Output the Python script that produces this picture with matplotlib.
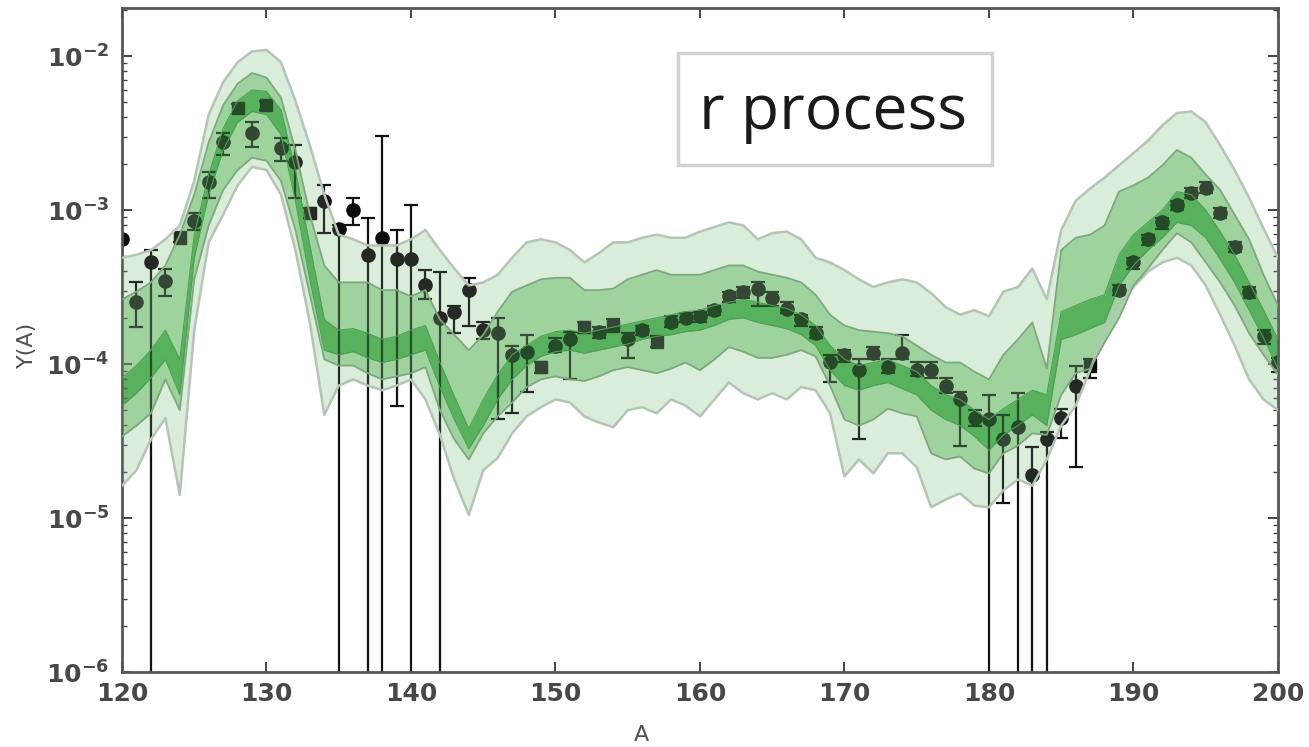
import numpy as np
import matplotlib
matplotlib.use("Agg")
import matplotlib.pyplot as plt
from matplotlib.patches import Rectangle
from matplotlib.ticker import FixedLocator, LogLocator, FuncFormatter, NullFormatter

# grid of mass numbers for the bands
A_grid = np.arange(120, 201)

# band edges, log10 Y(A) (A = 120 ... 200)
light_hi = [-3.31, -3.29, -3.26, -3.19, -3.10, -2.81, -2.38, -2.17, -2.04, -1.97,
            -1.96, -2.04, -2.29, -2.58, -2.90, -3.16, -3.19, -3.23, -3.23, -3.23,
            -3.19, -3.13, -3.26, -3.38, -3.49, -3.47, -3.42, -3.31, -3.21, -3.19,
            -3.21, -3.26, -3.34, -3.28, -3.21, -3.21, -3.18, -3.16, -3.18, -3.18,
            -3.14, -3.11, -3.08, -3.10, -3.19, -3.15, -3.14, -3.19, -3.31, -3.34,
            -3.39, -3.45, -3.50, -3.47, -3.45, -3.47, -3.54, -3.63, -3.68, -3.65,
            -3.69, -3.53, -3.50, -3.38, -3.58, -3.13, -2.94, -2.86, -2.79, -2.71,
            -2.63, -2.55, -2.45, -2.37, -2.36, -2.43, -2.58, -2.74, -2.92, -3.12,
            -3.31]
light_lo = [-4.79, -4.69, -4.49, -4.35, -4.85, -3.78, -3.21, -3.03, -2.84, -2.72,
            -2.74, -2.90, -3.26, -3.73, -4.33, -4.14, -4.10, -4.14, -4.17, -4.14,
            -4.10, -4.23, -4.46, -4.75, -4.98, -4.69, -4.61, -4.45, -4.34, -4.28,
            -4.23, -4.25, -4.34, -4.38, -4.41, -4.30, -4.28, -4.32, -4.23, -4.27,
            -4.34, -4.23, -4.12, -4.19, -4.23, -4.19, -4.23, -4.15, -4.17, -4.32,
            -4.73, -4.62, -4.71, -4.58, -4.58, -4.67, -4.93, -4.88, -4.84, -4.92,
            -4.93, -4.82, -4.75, -4.79, -4.62, -4.40, -4.27, -4.04, -3.78, -3.62,
            -3.50, -3.40, -3.34, -3.31, -3.36, -3.49, -3.68, -3.88, -4.10, -4.23,
            -4.30]
mid_hi = [-3.58, -3.53, -3.47, -3.36, -3.16, -2.90, -2.56, -2.32, -2.18, -2.11,
          -2.14, -2.27, -2.61, -3.03, -3.36, -3.47, -3.47, -3.47, -3.52, -3.52,
          -3.56, -3.52, -3.71, -3.81, -3.91, -3.81, -3.66, -3.53, -3.49, -3.45,
          -3.44, -3.44, -3.52, -3.52, -3.51, -3.45, -3.42, -3.39, -3.42, -3.42,
          -3.42, -3.39, -3.36, -3.36, -3.40, -3.42, -3.44, -3.47, -3.55, -3.68,
          -3.75, -3.78, -3.79, -3.80, -3.82, -3.88, -3.94, -3.99, -3.99, -4.05,
          -4.10, -3.94, -3.84, -3.73, -4.03, -3.26, -3.18, -3.16, -3.10, -2.88,
          -2.84, -2.79, -2.71, -2.61, -2.66, -2.77, -2.87, -3.03, -3.19, -3.42,
          -3.62]
mid_lo = [-4.47, -4.40, -4.32, -4.10, -4.30, -3.45, -3.10, -2.87, -2.74, -2.66,
          -2.68, -2.81, -3.13, -3.55, -3.97, -4.01, -4.01, -4.06, -4.10, -4.08,
          -4.06, -4.02, -4.30, -4.49, -4.62, -4.45, -4.34, -4.25, -4.15, -4.10,
          -4.08, -4.10, -4.11, -4.08, -4.04, -4.02, -4.04, -4.06, -4.03, -3.99,
          -4.04, -3.97, -3.89, -3.92, -3.96, -3.96, -3.94, -3.91, -3.95, -4.14,
          -4.36, -4.40, -4.36, -4.29, -4.32, -4.34, -4.58, -4.62, -4.60, -4.68,
          -4.71, -4.58, -4.53, -4.45, -4.46, -4.20, -4.06, -4.03, -3.86, -3.70,
          -3.49, -3.38, -3.26, -3.15, -3.21, -3.34, -3.47, -3.62, -3.80, -3.94,
          -4.07]
inner_hi = [-4.09, -4.01, -3.91, -3.78, -3.97, -3.16, -2.77, -2.47, -2.29, -2.22,
            -2.23, -2.35, -2.74, -3.23, -3.71, -3.78, -3.77, -3.80, -3.84, -3.82,
            -3.78, -3.75, -3.99, -4.21, -4.42, -4.23, -4.07, -3.94, -3.88, -3.82,
            -3.79, -3.78, -3.80, -3.78, -3.76, -3.74, -3.72, -3.70, -3.68, -3.66,
            -3.65, -3.62, -3.60, -3.58, -3.60, -3.62, -3.64, -3.68, -3.75, -3.88,
            -3.97, -4.01, -3.99, -3.97, -4.01, -4.05, -4.14, -4.20, -4.23, -4.30,
            -4.36, -4.29, -4.23, -4.17, -4.20, -3.66, -3.62, -3.58, -3.55, -3.29,
            -3.16, -3.08, -3.00, -2.88, -2.90, -3.00, -3.14, -3.29, -3.47, -3.65,
            -3.84]
inner_lo = [-4.27, -4.19, -4.09, -3.97, -4.20, -3.31, -2.90, -2.61, -2.43, -2.36,
            -2.38, -2.51, -2.94, -3.45, -3.91, -3.94, -3.92, -3.96, -3.99, -3.97,
            -3.94, -3.91, -4.15, -4.36, -4.55, -4.40, -4.23, -4.10, -4.01, -3.95,
            -3.92, -3.91, -3.93, -3.91, -3.89, -3.87, -3.84, -3.82, -3.81, -3.79,
            -3.78, -3.75, -3.71, -3.70, -3.73, -3.75, -3.77, -3.81, -3.88, -4.04,
            -4.14, -4.17, -4.14, -4.12, -4.16, -4.20, -4.30, -4.36, -4.40, -4.47,
            -4.56, -4.46, -4.40, -4.33, -4.40, -3.84, -3.81, -3.77, -3.73, -3.49,
            -3.36, -3.26, -3.18, -3.08, -3.10, -3.18, -3.32, -3.47, -3.65, -3.83,
            -4.03]

# data points: A, log10 Y and log10 of the bar ends (nan = bar runs off the bottom)
pts_A = list(range(120, 188)) + list(range(189, 201))
pts_logY = [-3.19, -3.60, -3.34, -3.46, -3.18, -3.07, -2.82, -2.56, -2.34, -2.50,
            -2.32, -2.60, -2.69, -3.02, -2.94, -3.12, -3.00, -3.29, -3.18, -3.32,
            -3.32, -3.49, -3.70, -3.66, -3.52, -3.78, -3.80, -3.94, -3.92, -4.02,
            -3.88, -3.84, -3.76, -3.79, -3.75, -3.84, -3.78, -3.86, -3.73, -3.70,
            -3.69, -3.65, -3.56, -3.53, -3.51, -3.57, -3.64, -3.71, -3.80, -3.99,
            -3.94, -4.04, -3.93, -4.02, -3.93, -4.04, -4.04, -4.14, -4.23, -4.35,
            -4.36, -4.49, -4.41, -4.72, -4.49, -4.35, -4.14, -4.01,
            -3.52, -3.34, -3.19, -3.08, -2.97, -2.89, -2.86, -3.02, -3.24, -3.53,
            -3.82, -3.99]
pts_hi = [-3.19, -3.47, -3.26, -3.38, -3.14, -3.02, -2.75, -2.50, -2.31, -2.43,
          -2.29, -2.53, -2.58, -2.99, -2.84, -3.10, -2.92, -3.05, -2.52, -3.13,
          -2.97, -3.39, -3.40, -3.62, -3.44, -3.73, -3.70, -3.88, -3.81, -3.99,
          -3.83, -3.79, -3.73, -3.76, -3.71, -3.80, -3.75, -3.82, -3.69, -3.67,
          -3.66, -3.62, -3.53, -3.50, -3.47, -3.53, -3.60, -3.68, -3.76, -3.94,
          -3.91, -3.97, -3.89, -3.97, -3.81, -3.99, -3.99, -4.09, -4.18, -4.30,
          -4.20, -4.33, -4.19, -4.54, -4.44, -4.29, -4.01, -3.97,
          -3.49, -3.31, -3.16, -3.05, -2.94, -2.86, -2.82, -2.99, -3.21, -3.50,
          -3.78, -3.96]
nan = np.nan
pts_lo = [-3.19, -3.76, nan, -3.56, -3.21, -3.13, -2.92, -2.64, -2.37, -2.59,
          -2.35, -2.68, -2.92, -3.05, -3.15, nan, -3.10, nan, nan, -4.27,
          nan, -3.58, nan, -3.80, -3.75, -3.84, -4.36, -4.32, -4.18, -4.06,
          -3.92, -4.10, -3.80, -3.83, -3.78, -3.96, -3.81, -3.89, -3.76, -3.73,
          -3.73, -3.68, -3.60, -3.57, -3.62, -3.62, -3.67, -3.75, -3.83, -4.12,
          -3.99, -4.49, -3.97, -4.06, -3.97, -4.08, -4.09, -4.19, -4.53, -4.40,
          nan, -4.90, nan, nan, nan, -4.48, -4.67, -4.09,
          -3.55, -3.38, -3.23, -3.12, -3.00, -2.92, -2.89, -3.05, -3.27, -3.57,
          -3.87, -4.05]
square_A = [124, 128, 130, 133, 149, 152, 154, 157, 187]

c_light = "#daedda"
c_mid = "#a5d7a5"
c_inner = "#5fb464"

fig = plt.figure(figsize=(13.09, 7.47), dpi=100)
ax = fig.add_axes([0.0932, 0.1004, 0.8831, 0.8889])

A_grid_f = A_grid.astype(float)
lh, ll = 10 ** np.array(light_hi), 10 ** np.array(light_lo)
mh, ml = 10 ** np.array(mid_hi), 10 ** np.array(mid_lo)
ih, il = 10 ** np.array(inner_hi), 10 ** np.array(inner_lo)

# solid bands underneath
ax.fill_between(A_grid_f, ll, lh, color=c_light, lw=0, zorder=1)
ax.fill_between(A_grid_f, ml, mh, color=c_mid, lw=0, zorder=1.1)
ax.fill_between(A_grid_f, il, ih, color=c_inner, lw=0, zorder=1.2)

# data points
pA = np.array(pts_A, dtype=float)
pY = 10 ** np.array(pts_logY)
pH = 10 ** np.array(pts_hi)
pL = np.where(np.isnan(pts_lo), 1e-8, 10 ** np.array(pts_lo))
has_bar = (pH > pY * 1.001)
ax.errorbar(pA[has_bar], pY[has_bar], yerr=[pY[has_bar] - pL[has_bar], pH[has_bar] - pY[has_bar]],
            fmt="none", ecolor="#111111", elinewidth=1.6, capsize=5, capthick=1.6, zorder=2)
is_sq = np.isin(pA, square_A)
ax.plot(pA[~is_sq], pY[~is_sq], "o", color="#0d0d0d", ms=9.5, zorder=2.1)
ax.plot(pA[is_sq], pY[is_sq], "s", color="#0d0d0d", ms=9, zorder=2.1)

# translucent bands on top, so points inside them look green
ax.fill_between(A_grid_f, mh, lh, color=c_light, alpha=0.12, lw=0, zorder=3)
ax.fill_between(A_grid_f, ll, ml, color=c_light, alpha=0.12, lw=0, zorder=3)
ax.fill_between(A_grid_f, ih, mh, color="#8fcc8f", alpha=0.3, lw=0, zorder=3)
ax.fill_between(A_grid_f, ml, il, color="#8fcc8f", alpha=0.3, lw=0, zorder=3)
ax.fill_between(A_grid_f, il, ih, color="#4cae52", alpha=0.38, lw=0, zorder=3)

# band outlines
for edge in (lh, ll):
    ax.plot(A_grid_f, edge, color="#b5c4b5", lw=1.8, zorder=4)
for edge in (mh, ml):
    ax.plot(A_grid_f, edge, color="#7ea87e", lw=1.3, zorder=4)
for edge in (ih, il):
    ax.plot(A_grid_f, edge, color="#4f9f55", lw=0.8, zorder=4)

ax.set_yscale("log")
ax.set_xlim(120, 200)
ax.set_ylim(1e-6, 10 ** -1.688)

ax.xaxis.set_major_locator(FixedLocator(np.arange(120, 201, 10)))
ax.yaxis.set_major_locator(FixedLocator([1e-6, 1e-5, 1e-4, 1e-3, 1e-2]))
ax.yaxis.set_minor_locator(LogLocator(base=10, subs=np.arange(2, 10)))
ax.yaxis.set_minor_formatter(NullFormatter())
ax.yaxis.set_major_formatter(FuncFormatter(lambda v, p: r"$\mathbf{10^{%d}}$" % round(np.log10(v))))

ax.tick_params(which="both", direction="in", top=True, right=True, color="#444444")
ax.tick_params(which="major", length=7, width=1.4)
ax.tick_params(which="minor", length=3.5, width=1.0)
ax.tick_params(axis="x", labelsize=18, pad=7, labelcolor="#484848")
ax.tick_params(axis="y", labelsize=18, pad=9, labelcolor="#484848")
for lab in ax.get_xticklabels():
    lab.set_fontweight("bold")
for s in ax.spines.values():
    s.set_color("#555555")
    s.set_linewidth(2)

fig.text(27 / 1309, 1 - 345 / 747, "Y(A)", rotation=90, ha="center", va="center",
         fontsize=16, color="#505050")
fig.text(641 / 1309, 1 - 735 / 747, "A", ha="center", va="center",
         fontsize=16, color="#505050")

# label box
box = Rectangle((678 / 1309, 1 - 165 / 747), (992 - 678) / 1309, (165 - 53) / 747,
                transform=fig.transFigure, facecolor="white", edgecolor="#d2d2d2",
                lw=2.5, zorder=6)
ax.add_patch(box)
ax.text(833 / 1309, 1 - 113 / 747, "r process", transform=fig.transFigure,
        ha="center", va="center", fontsize=45, family="Open Sans", color="#1a1a1a", zorder=7)

fig.savefig("out.png", dpi=100)
